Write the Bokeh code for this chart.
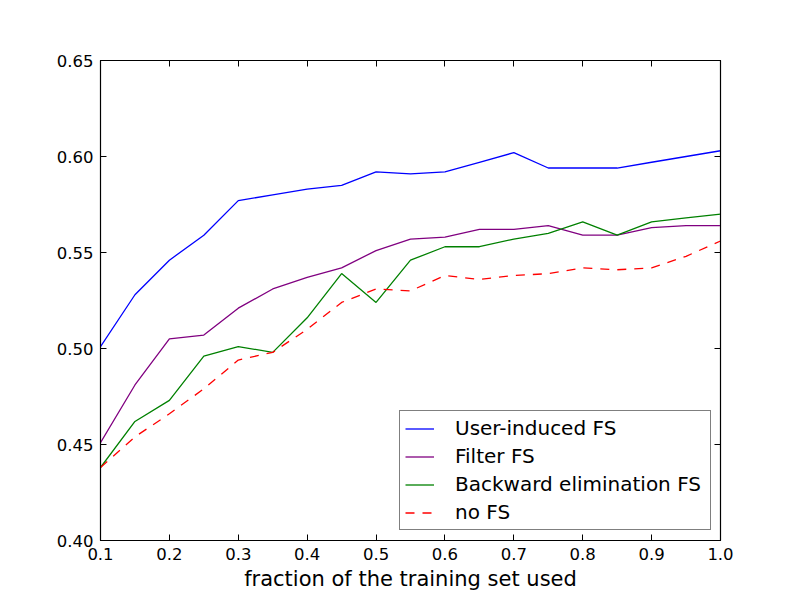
from bokeh.plotting import figure
from bokeh.models import (Range1d, FixedTicker, PrintfTickFormatter, LinearAxis,
                          Legend, LegendItem, ColumnDataSource, CustomJSTickFormatter)
from bokeh.embed import file_html
from bokeh.resources import INLINE

# ---- data ----
fractions = [0.1, 0.15, 0.2, 0.25, 0.3, 0.35, 0.4, 0.45, 0.5, 0.55,
             0.6, 0.65, 0.7, 0.75, 0.8, 0.85, 0.9, 0.95, 1.0]
user_induced = [0.501, 0.528, 0.546, 0.559, 0.577, 0.580, 0.583, 0.585, 0.592, 0.591,
                0.592, 0.597, 0.602, 0.594, 0.594, 0.594, 0.597, 0.600, 0.603]
filter_fs = [0.451, 0.481, 0.505, 0.507, 0.521, 0.531, 0.537, 0.542, 0.551, 0.557,
             0.558, 0.562, 0.562, 0.564, 0.559, 0.559, 0.563, 0.564, 0.564]
backward_fs = [0.438, 0.462, 0.473, 0.496, 0.501, 0.498, 0.516, 0.539, 0.524, 0.546,
               0.553, 0.553, 0.557, 0.560, 0.566, 0.559, 0.566, 0.568, 0.570]
no_fs = [0.438, 0.454, 0.466, 0.479, 0.494, 0.498, 0.510, 0.524, 0.531, 0.530,
         0.538, 0.536, 0.538, 0.539, 0.542, 0.541, 0.542, 0.548, 0.556]

x_ticks = [0.1, 0.2, 0.3, 0.4, 0.5, 0.6, 0.7, 0.8, 0.9, 1.0]
y_ticks = [0.40, 0.45, 0.50, 0.55, 0.60, 0.65]
series_labels = ["User-induced FS", "Filter FS", "Backward elimination FS", "no FS"]
x_label = "fraction of the training set used"

FONT = "DejaVu Sans"

p = figure(frame_width=620, frame_height=480,
           min_border_left=100, min_border_right=72,
           min_border_top=60, min_border_bottom=52,
           x_range=Range1d(0.1, 1.0), y_range=Range1d(0.40, 0.65),
           output_backend="svg", toolbar_location=None,
           background_fill_color="white", border_fill_color="white")
p.grid.visible = False
p.outline_line_color = "black"
p.outline_line_width = 1.2

src = ColumnDataSource(dict(x=fractions, a=user_induced, b=filter_fs,
                            c=backward_fs, d=no_fs))
r1 = p.line("x", "a", source=src, line_color="#0000ff", line_width=1.3)
r2 = p.line("x", "b", source=src, line_color="#800080", line_width=1.3)
r3 = p.line("x", "c", source=src, line_color="#008000", line_width=1.3)
r4 = p.line("x", "d", source=src, line_color="#ff0000", line_width=1.3,
            line_dash="9 8")


def style_axis(ax, ticks, fmt):
    ax.ticker = FixedTicker(ticks=ticks)
    ax.formatter = PrintfTickFormatter(format=fmt)
    ax.major_tick_in = 6
    ax.major_tick_out = 0
    ax.minor_tick_in = 0
    ax.minor_tick_out = 0
    ax.major_tick_line_color = "black"
    ax.axis_line_color = "black"
    ax.major_label_text_font = FONT
    ax.major_label_text_font_size = "16.5px"
    ax.major_label_text_color = "black"
    ax.major_label_standoff = 7


style_axis(p.xaxis[0], x_ticks, "%.1f")
style_axis(p.yaxis[0], y_ticks, "%.2f")
p.xaxis[0].axis_label = x_label
p.xaxis[0].axis_label_text_font = FONT
p.xaxis[0].axis_label_text_font_size = "21px"
p.xaxis[0].axis_label_text_font_style = "normal"
p.xaxis[0].axis_label_text_color = "black"
p.xaxis[0].axis_label_standoff = 4

# tick-only mirror axes (top and right), no labels
for loc, ticks in (("above", x_ticks), ("right", y_ticks)):
    ax = LinearAxis(ticker=FixedTicker(ticks=ticks),
                    formatter=CustomJSTickFormatter(code="return ''"),
                    major_tick_in=6, major_tick_out=0,
                    minor_tick_in=0, minor_tick_out=0,
                    major_label_standoff=0,
                    major_tick_line_color="black", axis_line_color="black")
    p.add_layout(ax, loc)

legend = Legend(items=[LegendItem(label=series_labels[0], renderers=[r1]),
                       LegendItem(label=series_labels[1], renderers=[r2]),
                       LegendItem(label=series_labels[2], renderers=[r3]),
                       LegendItem(label=series_labels[3], renderers=[r4])],
                location=(299, 10), margin=0, padding=5, spacing=4,
                glyph_width=29, glyph_height=21, label_height=21,
                label_width=250, label_standoff=21,
                label_text_font=FONT, label_text_font_size="20px",
                label_text_color="black",
                border_line_color="black", border_line_width=1.2,
                background_fill_color="white", background_fill_alpha=1.0)
p.add_layout(legend, "center")

open("out.html", "w").write(file_html(p, INLINE))
